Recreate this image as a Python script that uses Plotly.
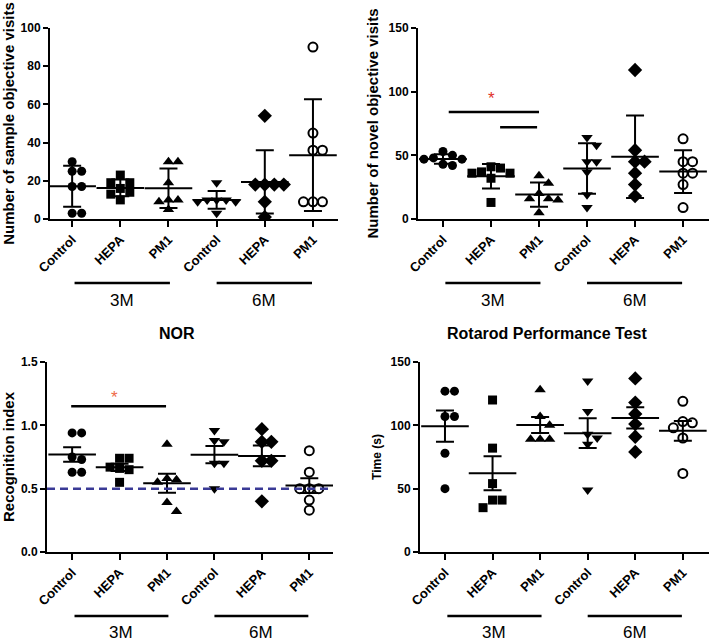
import numpy as np
import plotly.graph_objects as go

groups = ["Control", "HEPA", "PM1", "Control", "HEPA", "PM1"]
ages = ["3M", "6M"]

sample_visits = [
    [30, 25, 25, 17, 17, 3, 3],
    [23, 19, 19, 16, 14, 13, 10],
    [30, 30, 19, 10, 10, 9, 5],
    [19, 10, 10, 10, 9, 9, 3],
    [54, 18, 18, 18, 18, 9, 1],
    [90, 45, 36, 36, 9, 9, 9],
]
novel_visits = [
    [53, 50, 48, 47, 47, 43, 42],
    [41, 40, 37, 36, 36, 32, 13],
    [34, 28, 20, 16, 16, 15, 5],
    [64, 58, 45, 45, 37, 19, 9],
    [117, 54, 45, 45, 36, 27, 18],
    [63, 45, 45, 36, 36, 27, 9],
]
recognition_index = [
    [0.94, 0.94, 0.75, 0.73, 0.63, 0.63],
    [0.74, 0.74, 0.67, 0.66, 0.65, 0.55],
    [0.85, 0.58, 0.57, 0.55, 0.39, 0.32],
    [0.96, 0.88, 0.87, 0.70, 0.70, 0.50],
    [0.97, 0.87, 0.87, 0.72, 0.72, 0.40],
    [0.80, 0.63, 0.50, 0.50, 0.50, 0.41, 0.33],
]
rotarod_time = [
    [127, 127, 107, 107, 78, 50],
    [120, 82, 54, 41, 41, 35],
    [128, 107, 100, 89, 89, 89],
    [135, 111, 93, 90, 85, 49],
    [137, 118, 109, 101, 91, 79],
    [119, 103, 102, 98, 90, 62],
]

symbols = ["circle", "square", "triangle-up", "triangle-down", "diamond", "circle-open"]
sizes = [9, 9, 10, 10, 11, 9]

W, H = 709, 641
FONT = "Liberation Sans, Arial, sans-serif"


def px_x(p):
    return p / W


def px_y(p):
    return 1 - p / H


def swarm(vals, ypx_per_unit, xpx_per_unit, d=9.5):
    """Beeswarm-style horizontal offsets (in category units)."""
    placed = []
    offs = np.zeros(len(vals))
    order = np.argsort(vals, kind="stable")[::-1]
    cands = [0]
    for k in range(1, 8):
        cands += [k * d, -k * d]
    for i in order:
        y = vals[i] * ypx_per_unit
        for c in cands:
            if all((c - px) ** 2 + (y - py) ** 2 >= d * d for px, py in placed):
                break
        placed.append((c, y))
        offs[i] = c / xpx_per_unit
    return offs


panels = [
    dict(data=sample_visits, err="sd", ymax=100, dtick=20, fmt="d",
         title="Number of sample objective visits", tsize=15,
         xdom=[50, 338], ydom=[28, 219], xr=[-0.46, 5.52]),
    dict(data=novel_visits, err="sd", ymax=150, dtick=50, fmt="d",
         title="Number of novel objective visits", tsize=15,
         xdom=[418, 709], ydom=[28, 219], xr=[-0.52, 5.54]),
    dict(data=recognition_index, err="sem", ymax=1.5, dtick=0.5, fmt=".1f",
         title="Recognition index", tsize=15,
         xdom=[47, 333], ydom=[362, 552], xr=[-0.53, 5.5]),
    dict(data=rotarod_time, err="sem", ymax=150, dtick=50, fmt="d",
         title="Time (s)", tsize=12,
         xdom=[420, 709], ydom=[362, 552], xr=[-0.525, 5.55]),
]

fig = go.Figure()
layout = dict(width=W, height=H, margin=dict(l=0, r=0, t=0, b=0),
              paper_bgcolor="white", plot_bgcolor="white", showlegend=False,
              font=dict(family=FONT, color="black"))
shapes = []
annotations = []

for pi, p in enumerate(panels):
    sfx = "" if pi == 0 else str(pi + 1)
    xa, ya = "x" + sfx, "y" + sfx
    ypu = (p["ydom"][1] - p["ydom"][0]) / p["ymax"]
    xpu = (p["xdom"][1] - p["xdom"][0]) / (p["xr"][1] - p["xr"][0])
    means, errs = [], []
    for gi, vals in enumerate(p["data"]):
        v = np.array(vals, dtype=float)
        offs = swarm(v, ypu, xpu)
        fig.add_trace(go.Scatter(
            x=gi + offs, y=v, mode="markers", xaxis=xa, yaxis=ya,
            marker=dict(symbol=symbols[gi], size=sizes[gi], color="black",
                        line=dict(color="black", width=2 if gi == 5 else 0)),
            hoverinfo="skip"))
        means.append(v.mean())
        sd = v.std(ddof=1)
        errs.append(sd if p["err"] == "sd" else sd / np.sqrt(len(v)))
    fig.add_trace(go.Scatter(
        x=list(range(6)), y=means, mode="markers", xaxis=xa, yaxis=ya,
        marker=dict(symbol="line-ew", size=34, color="black",
                    line=dict(color="black", width=2)),
        error_y=dict(type="data", array=errs, visible=True, color="black",
                     thickness=2, width=9),
        hoverinfo="skip"))

    xd = [px_x(p["xdom"][0]), px_x(p["xdom"][1])]
    yd = [px_y(p["ydom"][1]), px_y(p["ydom"][0])]
    layout["xaxis" + sfx] = dict(
        domain=xd, range=p["xr"], anchor=ya, tickmode="array", automargin=False,
        tickvals=list(range(6)), ticktext=groups, tickangle=-45,
        showline=True, linewidth=2, linecolor="black", ticks="outside",
        ticklen=6, tickwidth=2, tickcolor="black", showgrid=False,
        zeroline=False,
        tickfont=dict(family=FONT, size=13, color="black", weight="bold"))
    layout["yaxis" + sfx] = dict(
        domain=yd, range=[0, p["ymax"]], anchor=xa, dtick=p["dtick"], automargin=False,
        tick0=0, tickformat=p["fmt"], showline=True, linewidth=2,
        linecolor="black", ticks="outside", ticklen=5, tickwidth=2,
        tickcolor="black", showgrid=False, zeroline=False,
        tickfont=dict(family=FONT, size=12, color="black", weight="bold"),
        title=dict(text=p["title"], standoff=6,
                   font=dict(family=FONT, size=p["tsize"], color="black", weight="bold")))

    # age group bars and labels below the axis
    line_y = 283 if pi < 2 else 616
    lab_y = 300 if pi < 2 else 632
    for ai, (x0, x1) in enumerate([(0.05, 2.03), (3.0, 4.98)]):
        shapes.append(dict(type="line", xref=xa, yref="paper", x0=x0, x1=x1,
                           y0=px_y(line_y), y1=px_y(line_y),
                           line=dict(color="black", width=2.5)))
        annotations.append(dict(xref=xa, yref="paper", x=(x0 + x1) / 2,
                                y=px_y(lab_y), text=ages[ai], showarrow=False,
                                font=dict(family=FONT, size=17, color="black"),
                                xanchor="center", yanchor="middle"))

# significance bars
shapes += [
    dict(type="line", xref="x2", yref="y2", x0=0.12, x1=2.0, y0=84, y1=84,
         line=dict(color="black", width=2.5)),
    dict(type="line", xref="x2", yref="y2", x0=1.19, x1=1.96, y0=72, y1=72,
         line=dict(color="black", width=2.5)),
    dict(type="line", xref="x3", yref="y3", x0=-0.02, x1=1.98, y0=1.15, y1=1.15,
         line=dict(color="black", width=2.5)),
    dict(type="line", xref="x3", yref="y3", x0=-0.53, x1=5.5, y0=0.5, y1=0.5,
         line=dict(color="#3a3a96", width=2.5, dash="8px,5px")),
]
annotations += [
    dict(xref="x2", yref="y2", x=1.02, y=95, text="*", showarrow=False,
         font=dict(family=FONT, size=17, color="#e0302a"), yanchor="middle"),
    dict(xref="x3", yref="y3", x=0.9, y=1.22, text="*", showarrow=False,
         font=dict(family=FONT, size=17, color="#ee6a48"), yanchor="middle"),
    dict(xref="paper", yref="paper", x=px_x(177), y=px_y(333), text="NOR",
         showarrow=False, font=dict(family=FONT, size=16, color="black", weight="bold"),
         xanchor="center", yanchor="middle"),
    dict(xref="paper", yref="paper", x=px_x(547), y=px_y(333),
         text="Rotarod Performance Test", showarrow=False,
         font=dict(family=FONT, size=16, color="black", weight="bold"),
         xanchor="center", yanchor="middle"),
]
layout["shapes"] = shapes
layout["annotations"] = annotations
fig.update_layout(**layout)
fig.write_html("out.html", config={"displayModeBar": False},
               post_script="document.body.style.margin='0';")
